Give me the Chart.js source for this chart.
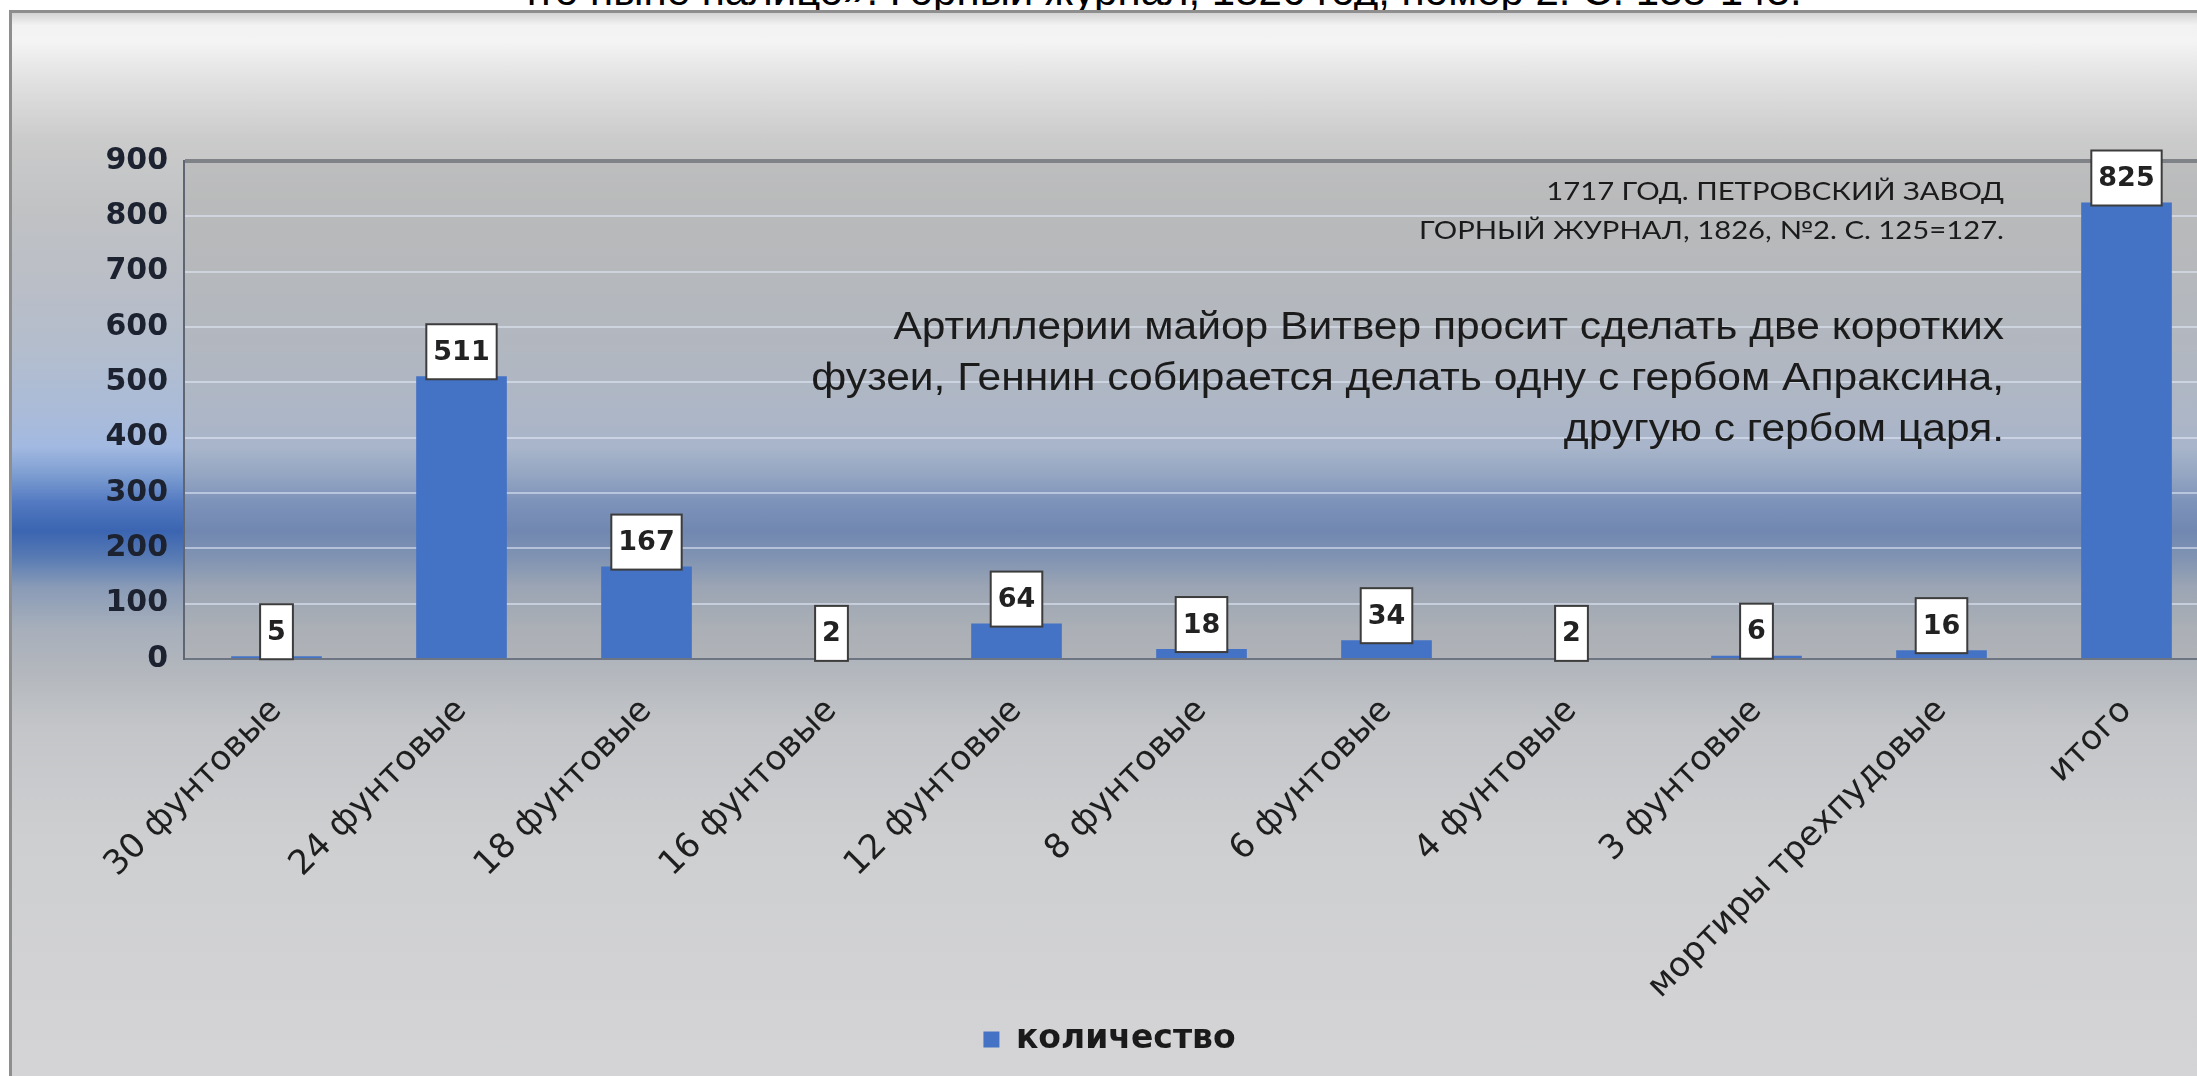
<!DOCTYPE html>
<html>
<head>
<meta charset="utf-8">
<script src="https://cdn.jsdelivr.net/npm/chart.js@4/dist/chart.umd.min.js"></script>
<style>
  html, body { margin: 0; padding: 0; background: #fff; width: 2197px; height: 1076px; overflow: hidden; }
  #cut { position: absolute; left: 0; top: -30px; width: 2316px; text-align: center;
         font: 42px "Liberation Sans", Arial, sans-serif; line-height: 42px; color: #000; white-space: nowrap; }
  #slide { position: absolute; left: 9px; top: 10px; width: 2300px; height: 1100px;
           border-left: 3px solid #8e8e8e; border-top: 3px solid #8e8e8e;
           background: linear-gradient(to bottom,
             #d4d4d4 0px, #f2f2f2 12px, #f4f4f4 28px, #e0e0e0 70px, #cbcbcb 126px, #c0c2c4 196px,
             #babec6 266px, #b3bdcd 336px, #a9bbda 406px, #a2b9e1 434px, #7d9dd1 462px, #5279c1 490px,
             #3b65b1 518px, #5a7cb4 546px, #899bb7 574px, #a7afbb 616px, #b3b7bd 658px, #c3c5c8 714px,
             #cecfd1 826px, #d4d4d6 1062px); }
  #wrap { position: absolute; left: 0; top: 0; width: 2240px; height: 1076px; }
</style>
</head>
<body>
<div id="cut">что ныне налицо». Горный журнал, 1826 год, номер 2. С. 138-143.</div>
<div id="slide"></div>
<div id="wrap"><canvas id="chart" width="2240" height="1076"></canvas></div>
<script>
// data
const categories = ['30 фунтовые', '24 фунтовые', '18 фунтовые', '16 фунтовые', '12 фунтовые',
  '8 фунтовые', '6 фунтовые', '4 фунтовые', '3 фунтовые', 'мортиры трехпудовые', 'итого'];
const counts = [5, 511, 167, 2, 64, 18, 34, 2, 6, 16, 825];
const seriesName = 'количество';
const yMin = 0, yMax = 900, yStep = 100;

const noteSmall = ['1717 ГОД. ПЕТРОВСКИЙ ЗАВОД', 'ГОРНЫЙ ЖУРНАЛ, 1826, №2. С. 125=127.'];
const noteBig = ['Артиллерии майор Витвер просит сделать две коротких',
  'фузеи, Геннин собирается делать одну с гербом Апраксина,',
  'другую с гербом царя.'];

function stretchText(ctx, txt, xr, yb, font, sx) {
  ctx.save();
  ctx.font = font;
  ctx.textAlign = 'right';
  ctx.textBaseline = 'alphabetic';
  ctx.translate(xr, yb);
  ctx.scale(sx, 1);
  ctx.fillText(txt, 0, 0);
  ctx.restore();
}

// grey wash over the plot area
const plotBg = {
  id: 'plotBg',
  beforeDraw(chart) {
    const a = chart.chartArea, ctx = chart.ctx;
    ctx.save();
    ctx.fillStyle = 'rgba(176,176,176,0.46)';
    ctx.fillRect(a.left, a.top, a.right - a.left, a.bottom - a.top);
    ctx.restore();
  }
};

// the two text blocks inside the plot
const notes = {
  id: 'notes',
  beforeDatasetsDraw(chart) {
    const ctx = chart.ctx;
    ctx.save();
    ctx.fillStyle = '#1b1b1b';
    noteSmall.forEach((t, i) => stretchText(ctx, t, 2004, 200 + i * 39, '25px Lato', 1.17));
    noteBig.forEach((t, i) => stretchText(ctx, t, 2004, 339 + i * 51, '38px "Liberation Sans"', 1.12));
    ctx.restore();
  }
};

// boxed value labels on top of the bars
const valueBoxes = {
  id: 'valueBoxes',
  afterDatasetsDraw(chart) {
    const ctx = chart.ctx;
    const meta = chart.getDatasetMeta(0);
    ctx.save();
    ctx.font = 'bold 27px "DejaVu Sans"';
    ctx.textAlign = 'center';
    ctx.textBaseline = 'middle';
    meta.data.forEach((bar, i) => {
      const txt = String(counts[i]);
      const w = ctx.measureText(txt).width + 14;
      const h = 55;
      const x = bar.x - w / 2, y = bar.y + 3 - h;
      ctx.fillStyle = '#ffffff';
      ctx.fillRect(x, y, w, h);
      ctx.strokeStyle = '#3c3c3c';
      ctx.lineWidth = 2;
      ctx.strokeRect(x, y, w, h);
      ctx.fillStyle = '#222';
      ctx.fillText(txt, bar.x, y + h / 2 + 1);
    });
    ctx.restore();
  }
};

new Chart(document.getElementById('chart'), {
  type: 'bar',
  data: {
    labels: categories,
    datasets: [{
      label: seriesName,
      data: counts,
      backgroundColor: '#4472c4',
      barPercentage: 0.49,
      categoryPercentage: 1.0
    }]
  },
  options: {
    responsive: false,
    animation: false,
    layout: { padding: { left: 0, top: 161, right: 21, bottom: 10 } },
    plugins: {
      tooltip: { enabled: false },
      legend: {
        position: 'bottom',
        labels: {
          boxWidth: 16, boxHeight: 16, padding: 10,
          color: '#1a1a1a',
          font: { family: 'DejaVu Sans', size: 33, weight: 'bold' }
        }
      }
    },
    scales: {
      x: {
        grid: { display: false },
        border: { display: false },
        ticks: {
          autoSkip: false, minRotation: 45, maxRotation: 45, padding: 24,
          color: '#1e1e1e',
          font: { family: 'DejaVu Sans', size: 34 }
        },
        afterFit(s) { s.height = 354; }
      },
      y: {
        min: yMin, max: yMax,
        ticks: {
          stepSize: yStep, padding: 16,
          color: '#1c2230',
          font: { family: 'DejaVu Sans', size: 30, weight: 'bold' }
        },
        grid: {
          drawTicks: false,
          color: c => c.tick.value === yMax ? '#7f8286' : (c.tick.value === yMin ? '#6d7582' : 'rgba(228,236,250,0.55)'),
          lineWidth: c => c.tick.value === yMax ? 4 : 2
        },
        border: { display: true, color: '#5f6672', width: 2 },
        afterFit(s) { s.width = 184; }
      }
    }
  },
  plugins: [plotBg, notes, valueBoxes]
});
</script>
</body>
</html>
